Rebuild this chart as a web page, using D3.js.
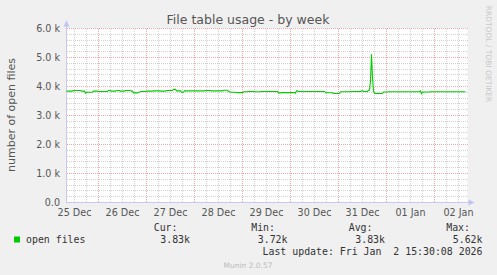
<!DOCTYPE html>
<html>
<head>
<meta charset="utf-8">
<script src="https://cdn.jsdelivr.net/npm/d3@7"></script>
<style>
  html, body { margin: 0; padding: 0; background: #f0f0f0; }
  svg { display: block; }
</style>
</head>
<body>
<svg id="chart" width="497" height="275"></svg>
<script>
// ---------------- data ----------------
const chartTitle = "File table usage - by week";
const yAxisTitle = "number of open files";
const seriesName = "open files";
const startTime = new Date(2025, 11, 25, 8, 0, 0);
const endTime = new Date(2026, 0, 2, 16, 0, 0);
// hours after startTime
const sampleHours = [0,3,3.5,7,7.5,9,9.5,10,13,13.5,15.5,16,20.5,21,22,22.5,24.5,25,26.5,27,29,29.5,32,32.5,33,33.5,35.5,36,36.5,37,39.5,40,43,43.5,46.5,47,49.5,50,53,53.5,54.5,55,57,57.5,58.5,59,64,69,69.5,72,72.5,78,78.5,80.5,81,82.5,84.5,85,88,88.5,90.5,91,94,94.5,97,97.5,105.5,106,107,107.5,114,114.5,115,115.5,116,129,129.5,131.5,133,133.5,136.5,137,141.5,142,147,147.5,148,148.5,150.5,151,151.5,152,152.5,153,153.5,154,158,158.5,160.5,161,176.5,177,177.5,178,178.5,181.5,182,199.5];
const openFiles = [3840,3840,3860,3860,3840,3840,3770,3800,3800,3840,3840,3830,3830,3860,3860,3840,3840,3860,3860,3840,3840,3860,3860,3840,3840,3780,3780,3800,3800,3830,3830,3840,3840,3850,3850,3840,3840,3860,3860,3900,3900,3850,3850,3800,3800,3850,3850,3850,3860,3860,3850,3850,3870,3870,3830,3800,3800,3790,3790,3820,3820,3830,3830,3820,3820,3830,3830,3780,3780,3790,3790,3770,3850,3850,3830,3830,3790,3785,3785,3760,3760,3820,3820,3830,3830,3850,3850,3830,3830,3870,3880,4200,5110,4300,3850,3760,3760,3810,3810,3820,3820,3850,3750,3810,3810,3810,3820,3820];
const yTickValues = [0, 1000, 2000, 3000, 4000, 5000, 6000];
const yTickLabels = ["0.0", "1.0 k", "2.0 k", "3.0 k", "4.0 k", "5.0 k", "6.0 k"];
const statLabels = ["Cur:", "Min:", "Avg:", "Max:"];
const statValues = ["3.83k", "3.72k", "3.83k", "5.62k"];
const lastUpdate = "Last update: Fri Jan  2 15:30:08 2026";
const footer = "Munin 2.0.57";
const watermark = "RRDTOOL / TOBI OETIKER";

// ---------------- drawing ----------------
const svg = d3.select("#chart");
const sans = "'DejaVu Sans', sans-serif";
const mono = "'DejaVu Sans Mono', monospace";

const pL = 66.5, pR = 466.5, pT = 28.5, pB = 202.5;
const x = d3.scaleTime().domain([startTime, endTime]).range([pL, pR]);
const y = d3.scaleLinear().domain([0, 6000]).range([pB, pT]);

svg.append("rect").attr("x", 0).attr("y", 0).attr("width", 497).attr("height", 275).attr("fill", "#f0f0f0");
svg.append("rect").attr("x", pL).attr("y", pT).attr("width", pR - pL + 1).attr("height", pB - pT).attr("fill", "#ffffff");

const snap = v => Math.floor(v) + 0.5;
const minorCol = "#d2d2d2", majorCol = "#f2a8a8";

// minor grid
const g = svg.append("g");
const minorY = d3.range(0, 6001, 200).filter(v => v % 1000 !== 0);
g.selectAll(".hmin").data(minorY).join("line")
  .attr("x1", pL + 0.5).attr("x2", pR + 1.5)
  .attr("y1", d => snap(y(d))).attr("y2", d => snap(y(d)))
  .attr("stroke", minorCol).attr("stroke-dasharray", "1,1").attr("stroke-width", 1);
const minorX = d3.timeHour.every(6).range(startTime, endTime).filter(d => d.getHours() !== 0);
g.selectAll(".vmin").data(minorX).join("line")
  .attr("x1", d => snap(x(d))).attr("x2", d => snap(x(d)))
  .attr("y1", pT + 0.5).attr("y2", pB)
  .attr("stroke", minorCol).attr("stroke-dasharray", "1,1").attr("stroke-width", 1);

// major grid
const majorX = d3.timeDay.range(startTime, endTime);
g.selectAll(".vmaj").data(majorX).join("line")
  .attr("x1", d => snap(x(d))).attr("x2", d => snap(x(d)))
  .attr("y1", pT + 0.5).attr("y2", pB)
  .attr("stroke", majorCol).attr("stroke-dasharray", "1,1").attr("stroke-width", 1);
g.selectAll(".hmaj").data(yTickValues.filter(v => v > 0)).join("line")
  .attr("x1", pL + 0.5).attr("x2", pR + 1.5)
  .attr("y1", d => snap(y(d))).attr("y2", d => snap(y(d)))
  .attr("stroke", majorCol).attr("stroke-dasharray", "1,1").attr("stroke-width", 1);

// axes
const axisCol = "#c8c8f0";
svg.append("line").attr("x1", pL).attr("x2", pL).attr("y1", pB + 0.5).attr("y2", pT - 4)
  .attr("stroke", axisCol);
svg.append("line").attr("x1", pL).attr("x2", pR + 3).attr("y1", pB).attr("y2", pB)
  .attr("stroke", axisCol);
svg.append("path").attr("d", `M${pL - 3},${pT - 2}L${pL + 3},${pT - 2}L${pL},${pT - 8}Z`).attr("fill", "#c0c4f4");
svg.append("path").attr("d", `M${pR + 2},${pB - 3}L${pR + 2},${pB + 3}L${pR + 8},${pB}Z`).attr("fill", "#c0c4f4");

// y tick labels
svg.selectAll(".ylab").data(yTickValues).join("text")
  .attr("x", 60).attr("y", d => y(d) + 3.5)
  .attr("text-anchor", "end").attr("font-family", sans).attr("font-size", "9.6px").attr("fill", "#555")
  .text((d, i) => yTickLabels[i]);

// x tick labels (noon of each day)
const labelDays = d3.timeDay.range(d3.timeDay.floor(startTime), endTime)
  .map(d => d3.timeHour.offset(d, 12)).filter(d => d >= startTime && d <= endTime);
const fmt = d3.timeFormat("%d %b");
svg.selectAll(".xlab").data(labelDays).join("text")
  .attr("x", d => x(d)).attr("y", 215.5)
  .attr("text-anchor", "middle").attr("font-family", sans).attr("font-size", "9.6px").attr("fill", "#555")
  .text(d => fmt(d));

// series line
const pts = sampleHours.map((h, i) => [d3.timeMinute.offset(startTime, h * 60), openFiles[i]]);
const line = d3.line().x(d => x(d[0])).y(d => y(d[1]));
svg.append("path").datum(pts).attr("d", line)
  .attr("fill", "none").attr("stroke", "#00cc00").attr("stroke-width", 1.1);

// title
svg.append("text").attr("x", 248).attr("y", 24).attr("text-anchor", "middle")
  .attr("font-family", sans).attr("font-size", "12.5px").attr("fill", "#555").text(chartTitle);

// y axis title
svg.append("text").attr("transform", "translate(15,115) rotate(-90)").attr("text-anchor", "middle")
  .attr("font-family", sans).attr("font-size", "11px").attr("fill", "#555").text(yAxisTitle);

// watermark
svg.append("text").attr("transform", "translate(486,54) rotate(90)").attr("text-anchor", "middle")
  .attr("font-family", sans).attr("font-size", "7.5px").attr("fill", "#c8c8c8").text(watermark);

// legend
svg.append("rect").attr("x", 14).attr("y", 236.5).attr("width", 6).attr("height", 6).attr("fill", "#00cc00");
svg.append("text").attr("x", 26).attr("y", 243).attr("font-family", mono).attr("font-size", "9.9px").attr("fill", "#333").text(seriesName);
const statX = [177.5, 275, 372.5, 470];
svg.selectAll(".stl").data(statLabels).join("text")
  .attr("x", (d, i) => statX[i]).attr("y", 231).attr("text-anchor", "end")
  .attr("font-family", mono).attr("font-size", "9.9px").attr("fill", "#333").text(d => d);
svg.selectAll(".stv").data(statValues).join("text")
  .attr("x", (d, i) => statX[i] + 12.5).attr("y", 243).attr("text-anchor", "end")
  .attr("font-family", mono).attr("font-size", "9.9px").attr("fill", "#333").text(d => d);
svg.append("text").attr("x", 482.5).attr("y", 254.5).attr("text-anchor", "end")
  .attr("font-family", mono).attr("font-size", "9.9px").attr("fill", "#333")
  .attr("xml:space", "preserve").style("white-space", "pre").text(lastUpdate);

// footer
svg.append("text").attr("x", 248).attr("y", 268).attr("text-anchor", "middle")
  .attr("font-family", sans).attr("font-size", "7.5px").attr("fill", "#bbbbbb").text(footer);
</script>
</body>
</html>
